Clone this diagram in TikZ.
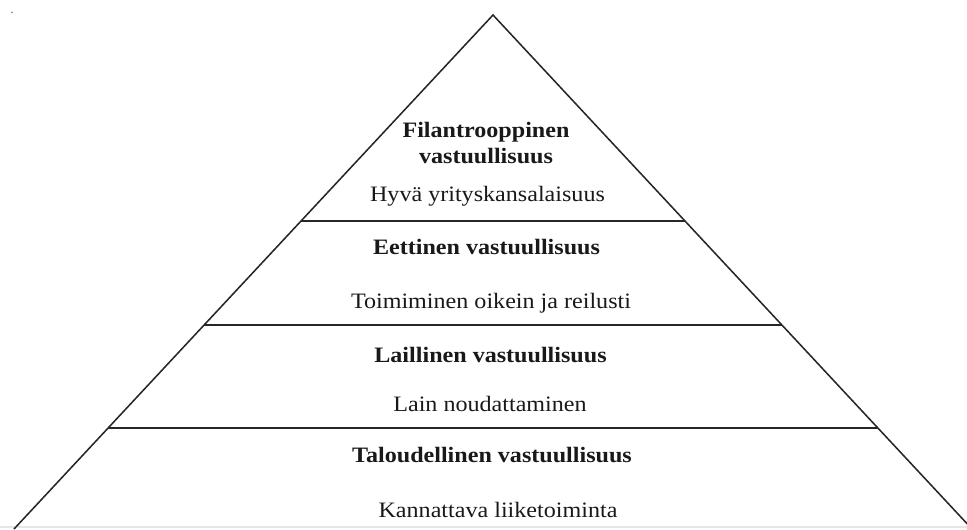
\documentclass[tikz,border=0pt]{standalone}
\usepackage{fontspec}
\setmainfont{Liberation Serif}
\tikzset{
  edge/.style={draw=black!85, line width=1.15pt},
  lbl/.style={anchor=base, inner sep=0pt, font=\fontsize{16.5}{19}\selectfont, text=black!90, xscale=1.095, transform shape},
  head/.style={lbl, font=\fontsize{16.5}{19}\selectfont\bfseries}
}
\begin{document}
\begin{tikzpicture}[x=0.75pt, y=-0.75pt]
\useasboundingbox (0,0) rectangle (967,529);
\clip (0,0) rectangle (967,529);
% faint page edge
\draw[gray!20, line width=0.8pt] (0,527) -- (967,527);
\node[inner sep=0pt, font=\fontsize{10}{10}\selectfont, text=black!60] (dot) at (12,13) {.};
% pyramid
\coordinate (apex) at (493,15);
\coordinate (bl) at (14,529);
\coordinate (br) at (972,529);
\coordinate (l1) at (301,221); \coordinate (r1) at (685,221);
\coordinate (l2) at (204,325); \coordinate (r2) at (782,325);
\coordinate (l3) at (108,428); \coordinate (r3) at (878,428);
\draw[edge, line join=miter] (bl) -- (apex) -- (br);
\draw[edge] (l1) -- (r1);
\draw[edge] (l2) -- (r2);
\draw[edge] (l3) -- (r3);
% texts
\node[head] (t1a) at (486,137) {Filantrooppinen};
\node[head] (t1b) at (486,163) {vastuullisuus};
\node[lbl]  (s1)  at (487.5,201) {Hyvä yrityskansalaisuus};
\node[head] (t2)  at (486.5,254) {Eettinen vastuullisuus};
\node[lbl]  (s2)  at (491,308) {Toimiminen oikein ja reilusti};
\node[head] (t3)  at (490.5,362) {Laillinen vastuullisuus};
\node[lbl]  (s3)  at (490,411) {Lain noudattaminen};
\node[head] (t4)  at (492,462) {Taloudellinen vastuullisuus};
\node[lbl]  (s4)  at (498,517) {Kannattava liiketoiminta};
\end{tikzpicture}
\end{document}
